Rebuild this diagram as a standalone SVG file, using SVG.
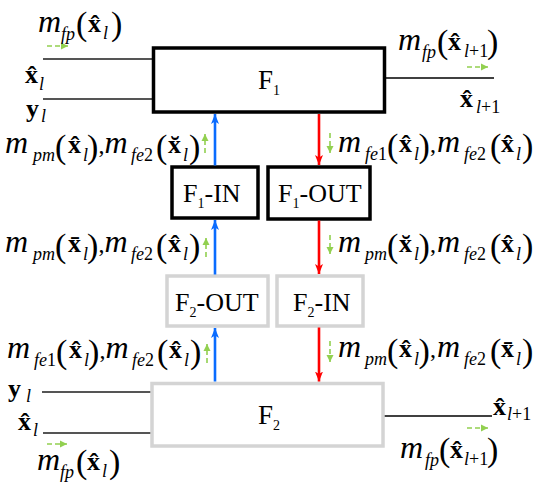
<svg xmlns="http://www.w3.org/2000/svg" width="540" height="492" viewBox="0 0 540 492">
<style>
text{font-family:"Liberation Serif","Times New Roman",serif;fill:#000}
.mi{font-style:italic;font-size:32px}
.cm{font-style:normal;font-size:24px}
.sb{font-style:italic;font-size:18px}
.up{font-style:normal}
.pr{font-style:normal;font-size:34px}
.bx{font-style:normal;font-weight:bold;font-size:26px}
.nm{font-size:26px}
.nb{font-size:27px}
.ns{font-size:14px}
.node1{fill:#fff;stroke:#000;stroke-width:3.5}
.node2{fill:#fff;stroke:#d4d4d4;stroke-width:3.5}
.io{fill:none;stroke:#555;stroke-width:2}
.out{fill:none;stroke:#000;stroke-width:1.6}
.blue{stroke:#0a6cff;stroke-width:2.6;fill:none;marker-end:url(#ab)}
.red{stroke:#ff0000;stroke-width:2.6;fill:none;marker-end:url(#ar)}
.grn{stroke:#92d050;stroke-width:1.6;fill:none;stroke-dasharray:5 3;marker-end:url(#ag)}
</style>
<defs>
<marker id="ab" markerUnits="userSpaceOnUse" markerWidth="12" markerHeight="10" refX="10" refY="5" orient="auto"><path d="M0,1 L10,5 L0,9 L2.5,5 Z" fill="#0a6cff"/></marker>
<marker id="ar" markerUnits="userSpaceOnUse" markerWidth="12" markerHeight="10" refX="10" refY="5" orient="auto"><path d="M0,1 L10,5 L0,9 L2.5,5 Z" fill="#ff0000"/></marker>
<marker id="ag" markerUnits="userSpaceOnUse" markerWidth="8" markerHeight="8" refX="7" refY="4" orient="auto"><path d="M0,0.5 L7,4 L0,7.5 Z" fill="#92d050"/></marker>
</defs>

<g id="io-lines">
<line class="io" x1="43" y1="59" x2="153" y2="59"/>
<line class="io" x1="43" y1="99" x2="153" y2="99"/>
<line class="out" x1="385" y1="78" x2="494" y2="78"/>
<line class="io" x1="42" y1="392" x2="152" y2="392"/>
<line class="io" x1="43" y1="433" x2="152" y2="433"/>
<line class="out" x1="384" y1="416" x2="492" y2="416"/>
</g>

<g id="F1">
<rect class="node1" x="153.5" y="48" width="231" height="64"/>
<text x="258" y="89"><tspan class="nb">F</tspan><tspan class="ns" x="273" y="95">1</tspan></text>
</g>
<g id="F1-IN">
<rect class="node1" x="172" y="167" width="86" height="51"/>
<text x="183" y="202"><tspan class="nm">F</tspan><tspan class="ns" x="197.5" y="208">1</tspan><tspan class="nm" x="204.5" y="202">-IN</tspan></text>
</g>
<g id="F1-OUT">
<rect class="node1" x="268" y="167" width="102" height="52"/>
<text x="278" y="202"><tspan class="nm">F</tspan><tspan class="ns" x="292.5" y="208">1</tspan><tspan class="nm" x="299.5" y="202">-OUT</tspan></text>
</g>
<g id="F2-OUT">
<rect class="node2" x="167" y="276" width="101" height="50"/>
<text x="175" y="311"><tspan class="nm">F</tspan><tspan class="ns" x="189.5" y="317">2</tspan><tspan class="nm" x="196.5" y="311">-OUT</tspan></text>
</g>
<g id="F2-IN">
<rect class="node2" x="277" y="276" width="86" height="50"/>
<text x="293" y="311"><tspan class="nm">F</tspan><tspan class="ns" x="307.5" y="317">2</tspan><tspan class="nm" x="314.5" y="311">-IN</tspan></text>
</g>
<g id="F2">
<rect class="node2" x="152" y="383.5" width="231" height="62.5"/>
<text x="258" y="424"><tspan class="nb">F</tspan><tspan class="ns" x="273" y="430">2</tspan></text>
</g>

<g id="connectors">
<line class="blue" x1="215" y1="381.5" x2="215" y2="328"/>
<line class="blue" x1="215" y1="274.5" x2="215" y2="220"/>
<line class="blue" x1="215" y1="165.5" x2="215" y2="114"/>
<line class="red" x1="319" y1="114" x2="319" y2="165"/>
<line class="red" x1="319" y1="220.5" x2="319" y2="274"/>
<line class="red" x1="319" y1="327.5" x2="319" y2="381.5"/>
<line class="grn" x1="47" y1="46" x2="68" y2="46"/>
<line class="grn" x1="467" y1="67" x2="488" y2="67"/>
<line class="grn" x1="47" y1="444" x2="67" y2="444"/>
<line class="grn" x1="467" y1="428" x2="488" y2="428"/>
<line class="grn" x1="205" y1="153" x2="205" y2="134"/>
<line class="grn" x1="206" y1="257" x2="206" y2="238"/>
<line class="grn" x1="207" y1="363" x2="207" y2="344"/>
<line class="grn" x1="330" y1="133" x2="330" y2="153"/>
<line class="grn" x1="330" y1="235" x2="330" y2="254"/>
<line class="grn" x1="330" y1="341" x2="330" y2="362"/>
</g>

<g id="labels-io">
<text transform="translate(38,32)"><tspan class="mi" x="0" y="0">m</tspan><tspan class="sb" x="23" y="8">fp</tspan><tspan class="pr" x="38" y="3">(</tspan><tspan class="bx" x="50" y="0">x&#x302;</tspan><tspan class="sb" x="65" y="7">l</tspan><tspan class="pr" x="73" y="3">)</tspan></text>
<text transform="translate(25,83)"><tspan class="bx" x="0" y="0">x&#x302;</tspan><tspan class="sb" x="14" y="7">l</tspan></text>
<text transform="translate(26,117)"><tspan class="bx" x="0" y="0">y</tspan><tspan class="sb" x="15" y="5">l</tspan></text>
<text transform="translate(398,50)"><tspan class="mi" x="0" y="0">m</tspan><tspan class="sb" x="24" y="8">fp</tspan><tspan class="pr" x="39" y="3">(</tspan><tspan class="bx" x="50" y="0">x&#x302;</tspan><tspan class="sb" x="66" y="7">l<tspan class="up">+1</tspan></tspan><tspan class="pr" x="89" y="3">)</tspan></text>
<text transform="translate(460,107)"><tspan class="bx" x="0" y="0">x&#x302;</tspan><tspan class="sb" x="16" y="6">l<tspan class="up">+1</tspan></tspan></text>
<text transform="translate(8,397)"><tspan class="bx" x="0" y="0">y</tspan><tspan class="sb" x="18" y="5">l</tspan></text>
<text transform="translate(18,430)"><tspan class="bx" x="0" y="0">x&#x302;</tspan><tspan class="sb" x="15" y="6">l</tspan></text>
<text transform="translate(37,470)"><tspan class="mi" x="0" y="0">m</tspan><tspan class="sb" x="23" y="8">fp</tspan><tspan class="pr" x="39" y="3">(</tspan><tspan class="bx" x="50" y="0">x&#x302;</tspan><tspan class="sb" x="65" y="7">l</tspan><tspan class="pr" x="72" y="3">)</tspan></text>
<text transform="translate(493,415)"><tspan class="bx" x="0" y="0">x&#x302;</tspan><tspan class="sb" x="14" y="5">l<tspan class="up">+1</tspan></tspan></text>
<text transform="translate(400,458)"><tspan class="mi" x="0" y="0">m</tspan><tspan class="sb" x="25" y="8">fp</tspan><tspan class="pr" x="39" y="3">(</tspan><tspan class="bx" x="50" y="0">x&#x302;</tspan><tspan class="sb" x="64" y="7">l<tspan class="up">+1</tspan></tspan><tspan class="pr" x="87" y="3">)</tspan></text>
</g>

<g id="labels-messages">
<text transform="translate(5,153)"><tspan class="mi" x="0" y="0">m</tspan><tspan class="sb" x="28" y="8">pm</tspan><tspan class="pr" x="50" y="5">(</tspan><tspan class="bx" x="63" y="0">x&#x302;</tspan><tspan class="sb" x="78" y="8">l</tspan><tspan class="pr" x="82" y="5">)</tspan><tspan class="cm" x="93.5" y="0">,</tspan><tspan class="mi" x="99.5" y="0">m</tspan><tspan class="sb" x="126" y="8">fe<tspan class="up">2</tspan></tspan><tspan class="pr" x="151" y="5">(</tspan><tspan class="bx" x="163" y="0">x&#x306;</tspan><tspan class="sb" x="178" y="8">l</tspan><tspan class="pr" x="184" y="5">)</tspan></text>
<text transform="translate(338,152)"><tspan class="mi" x="0" y="0">m</tspan><tspan class="sb" x="27" y="8">fe<tspan class="up">1</tspan></tspan><tspan class="pr" x="49" y="5">(</tspan><tspan class="bx" x="61" y="0">x&#x302;</tspan><tspan class="sb" x="76" y="8">l</tspan><tspan class="pr" x="80.5" y="5">)</tspan><tspan class="cm" x="92" y="0">,</tspan><tspan class="mi" x="99" y="0">m</tspan><tspan class="sb" x="126" y="8">fe<tspan class="up">2</tspan></tspan><tspan class="pr" x="152" y="5">(</tspan><tspan class="bx" x="163" y="0">x&#x302;</tspan><tspan class="sb" x="178" y="8">l</tspan><tspan class="pr" x="184" y="5">)</tspan></text>
<text transform="translate(5,252)"><tspan class="mi" x="0" y="0">m</tspan><tspan class="sb" x="28" y="8">pm</tspan><tspan class="pr" x="50" y="5">(</tspan><tspan class="bx" x="63" y="0">x&#x304;</tspan><tspan class="sb" x="78" y="8">l</tspan><tspan class="pr" x="82" y="5">)</tspan><tspan class="cm" x="93.5" y="0">,</tspan><tspan class="mi" x="99.5" y="0">m</tspan><tspan class="sb" x="126" y="8">fe<tspan class="up">2</tspan></tspan><tspan class="pr" x="151" y="5">(</tspan><tspan class="bx" x="163" y="0">x&#x302;</tspan><tspan class="sb" x="178" y="8">l</tspan><tspan class="pr" x="184" y="5">)</tspan></text>
<text transform="translate(338,252)"><tspan class="mi" x="0" y="0">m</tspan><tspan class="sb" x="27" y="8">pm</tspan><tspan class="pr" x="49" y="5">(</tspan><tspan class="bx" x="61" y="0">x&#x306;</tspan><tspan class="sb" x="76" y="8">l</tspan><tspan class="pr" x="80.5" y="5">)</tspan><tspan class="cm" x="92" y="0">,</tspan><tspan class="mi" x="99" y="0">m</tspan><tspan class="sb" x="126" y="8">fe<tspan class="up">2</tspan></tspan><tspan class="pr" x="152" y="5">(</tspan><tspan class="bx" x="163" y="0">x&#x302;</tspan><tspan class="sb" x="178" y="8">l</tspan><tspan class="pr" x="184" y="5">)</tspan></text>
<text transform="translate(7,358)"><tspan class="mi" x="0" y="0">m</tspan><tspan class="sb" x="27" y="8">fe<tspan class="up">1</tspan></tspan><tspan class="pr" x="49" y="5">(</tspan><tspan class="bx" x="62" y="0">x&#x302;</tspan><tspan class="sb" x="77" y="8">l</tspan><tspan class="pr" x="81" y="5">)</tspan><tspan class="cm" x="92.5" y="0">,</tspan><tspan class="mi" x="98.5" y="0">m</tspan><tspan class="sb" x="125" y="8">fe<tspan class="up">2</tspan></tspan><tspan class="pr" x="150" y="5">(</tspan><tspan class="bx" x="162" y="0">x&#x302;</tspan><tspan class="sb" x="177" y="8">l</tspan><tspan class="pr" x="183" y="5">)</tspan></text>
<text transform="translate(338,357)"><tspan class="mi" x="0" y="0">m</tspan><tspan class="sb" x="27" y="8">pm</tspan><tspan class="pr" x="49" y="5">(</tspan><tspan class="bx" x="61" y="0">x&#x302;</tspan><tspan class="sb" x="76" y="8">l</tspan><tspan class="pr" x="80.5" y="5">)</tspan><tspan class="cm" x="92" y="0">,</tspan><tspan class="mi" x="99" y="0">m</tspan><tspan class="sb" x="126" y="8">fe<tspan class="up">2</tspan></tspan><tspan class="pr" x="152" y="5">(</tspan><tspan class="bx" x="163" y="0">x&#x304;</tspan><tspan class="sb" x="178" y="8">l</tspan><tspan class="pr" x="184" y="5">)</tspan></text>
</g>
</svg>
